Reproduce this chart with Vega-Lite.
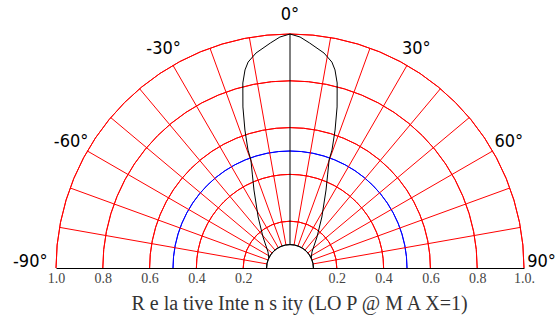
{
  "$schema": "https://vega.github.io/schema/vega-lite/v6.json",
  "autosize": "none",
  "width": 468,
  "height": 234,
  "padding": {"left": 56, "top": 34, "right": 34, "bottom": 50},
  "background": "white",
  "config": {"view": {"stroke": null}},
  "datasets": {
    "rings": [{"r": 0.2}, {"r": 0.4}, {"r": 0.6}, {"r": 0.8}, {"r": 1.0}],
    "half": [{"r": 0.5}],
    "inner": [{"r": 0.1}],
    "spokes": [
      {"a": -80}, {"a": -70}, {"a": -60}, {"a": -50}, {"a": -40}, {"a": -30}, {"a": -20}, {"a": -10},
      {"a": 10}, {"a": 20}, {"a": 30}, {"a": 40}, {"a": 50}, {"a": 60}, {"a": 70}, {"a": 80}
    ],
    "pattern": [
      {"angle": -65, "intensity": 0.10},
      {"angle": -54, "intensity": 0.116},
      {"angle": -41, "intensity": 0.176},
      {"angle": -32, "intensity": 0.257},
      {"angle": -24.8, "intensity": 0.367},
      {"angle": -22, "intensity": 0.429},
      {"angle": -19.9, "intensity": 0.491},
      {"angle": -19.6, "intensity": 0.535},
      {"angle": -18.1, "intensity": 0.62},
      {"angle": -16.3, "intensity": 0.717},
      {"angle": -14.3, "intensity": 0.816},
      {"angle": -12.8, "intensity": 0.868},
      {"angle": -11.5, "intensity": 0.898},
      {"angle": -9, "intensity": 0.93},
      {"angle": -5, "intensity": 0.965},
      {"angle": -2.5, "intensity": 0.988},
      {"angle": 0, "intensity": 1.0},
      {"angle": 2.5, "intensity": 0.988},
      {"angle": 5, "intensity": 0.965},
      {"angle": 9, "intensity": 0.93},
      {"angle": 11.5, "intensity": 0.898},
      {"angle": 12.8, "intensity": 0.868},
      {"angle": 14.3, "intensity": 0.816},
      {"angle": 16.3, "intensity": 0.717},
      {"angle": 18.1, "intensity": 0.62},
      {"angle": 19.6, "intensity": 0.535},
      {"angle": 19.9, "intensity": 0.491},
      {"angle": 22, "intensity": 0.429},
      {"angle": 24.8, "intensity": 0.367},
      {"angle": 32, "intensity": 0.257},
      {"angle": 41, "intensity": 0.176},
      {"angle": 54, "intensity": 0.116},
      {"angle": 65, "intensity": 0.10}
    ],
    "labels": [
      {"a": -60, "t": "-60°"}, {"a": -30, "t": "-30°"}, {"a": 0, "t": "0°"}, {"a": 30, "t": "30°"}, {"a": 60, "t": "60°"}
    ],
    "sideLabels": [{"a": -90, "t": "-90°"}, {"a": 90, "t": "90°"}]
  },
  "layer": [
    {
      "data": {"name": "rings"},
      "mark": {"type": "arc", "filled": false, "stroke": "#ff0000", "strokeWidth": 1, "theta": -1.5708, "theta2": 1.5708},
      "encoding": {
        "x": {"datum": 0, "type": "quantitative", "scale": {"domain": [-1, 1], "nice": false, "zero": false},
          "axis": {
            "title": "R e la tive  Inte n s ity  (LO P @  M A X=1)",
            "values": [-1, -0.8, -0.6, -0.4, -0.2, 0.2, 0.4, 0.6, 0.8, 1],
            "labelExpr": "datum.value == 1 ? '1.0.' : format(abs(datum.value), '.1f')",
            "ticks": false, "grid": false, "domainColor": "#000000", "domainWidth": 1,
            "labelFont": "Liberation Serif", "labelFontSize": 14, "labelColor": "#444444",
            "labelPadding": 3, "labelFlush": false, "labelOverlap": false,
            "titleFont": "Liberation Serif", "titleFontSize": 20, "titleFontWeight": "normal",
            "titleColor": "#333333", "titlePadding": 8, "titleX": 243
          }},
        "y": {"datum": 0, "type": "quantitative", "scale": {"domain": [0, 1], "nice": false, "zero": false}, "axis": null},
        "radius": {"field": "r", "type": "quantitative", "scale": {"type": "linear", "domain": [0, 1], "range": [0, 234], "zero": true}, "legend": null},
        "radius2": {"field": "r"}
      }
    },
    {
      "data": {"name": "half"},
      "mark": {"type": "arc", "filled": false, "stroke": "#0000ff", "strokeWidth": 1, "theta": -1.5708, "theta2": 1.5708},
      "encoding": {
        "x": {"datum": 0, "type": "quantitative"},
        "y": {"datum": 0, "type": "quantitative", "axis": null},
        "radius": {"field": "r", "type": "quantitative"},
        "radius2": {"field": "r"}
      }
    },
    {
      "data": {"name": "spokes"},
      "transform": [
        {"calculate": "0.1 * sin(datum.a * PI / 180)", "as": "x0"},
        {"calculate": "0.1 * cos(datum.a * PI / 180)", "as": "y0"},
        {"calculate": "sin(datum.a * PI / 180)", "as": "x1"},
        {"calculate": "cos(datum.a * PI / 180)", "as": "y1"}
      ],
      "mark": {"type": "rule", "color": "#ff0000", "strokeWidth": 1},
      "encoding": {
        "x": {"field": "x0", "type": "quantitative"},
        "y": {"field": "y0", "type": "quantitative", "axis": null},
        "x2": {"field": "x1"},
        "y2": {"field": "y1"}
      }
    },
    {
      "data": {"values": [{"a": 0}]},
      "mark": {"type": "rule", "color": "#000000", "strokeWidth": 1},
      "encoding": {
        "x": {"datum": 0, "type": "quantitative"},
        "y": {"datum": 0.1, "type": "quantitative", "axis": null},
        "y2": {"datum": 1}
      }
    },
    {
      "data": {"name": "inner"},
      "mark": {"type": "arc", "filled": false, "stroke": "#000000", "strokeWidth": 1, "theta": -1.5708, "theta2": 1.5708},
      "encoding": {
        "x": {"datum": 0, "type": "quantitative"},
        "y": {"datum": 0, "type": "quantitative", "axis": null},
        "radius": {"field": "r", "type": "quantitative"},
        "radius2": {"field": "r"}
      }
    },
    {
      "data": {"name": "pattern"},
      "transform": [
        {"calculate": "datum.intensity * sin(datum.angle * PI / 180)", "as": "px"},
        {"calculate": "datum.intensity * cos(datum.angle * PI / 180)", "as": "py"}
      ],
      "mark": {"type": "line", "color": "#000000", "strokeWidth": 1, "interpolate": "linear"},
      "encoding": {
        "x": {"field": "px", "type": "quantitative"},
        "y": {"field": "py", "type": "quantitative", "axis": null},
        "order": {"field": "angle", "type": "quantitative"}
      }
    },
    {
      "data": {"name": "labels"},
      "transform": [
        {"calculate": "1.08 * sin(datum.a * PI / 180)", "as": "lx"},
        {"calculate": "1.08 * cos(datum.a * PI / 180)", "as": "ly"}
      ],
      "mark": {"type": "text", "font": "DejaVu Sans Condensed", "fontSize": 18, "color": "#000000", "align": "center", "baseline": "middle"},
      "encoding": {
        "x": {"field": "lx", "type": "quantitative"},
        "y": {"field": "ly", "type": "quantitative", "axis": null},
        "text": {"field": "t"}
      }
    },
    {
      "data": {"name": "sideLabels"},
      "transform": [
        {"calculate": "(datum.a < 0 ? 1.11 : 1.075) * sin(datum.a * PI / 180)", "as": "lx"},
        {"calculate": "0", "as": "ly"}
      ],
      "mark": {"type": "text", "font": "DejaVu Sans Condensed", "fontSize": 18, "color": "#000000", "align": "center", "baseline": "middle", "dy": -6},
      "encoding": {
        "x": {"field": "lx", "type": "quantitative"},
        "y": {"field": "ly", "type": "quantitative", "axis": null},
        "text": {"field": "t"}
      }
    }
  ]
}
